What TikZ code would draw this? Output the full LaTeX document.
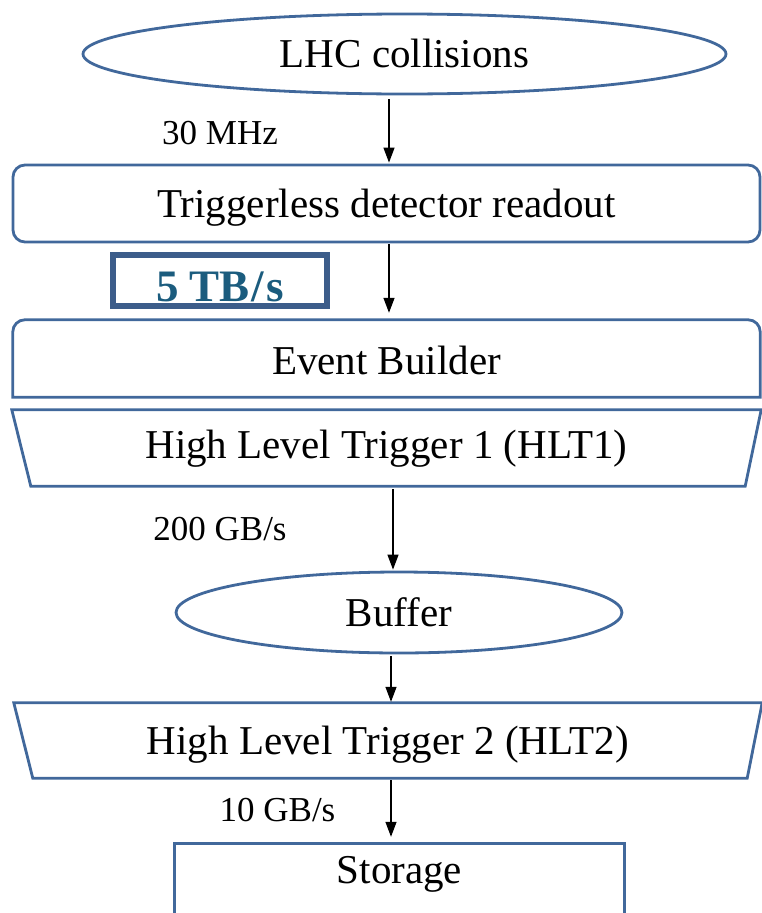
\documentclass[tikz,border=0pt]{standalone}
\usepackage{fontspec}
\setmainfont{Liberation Serif}
\usetikzlibrary{shapes.geometric,arrows.meta}
\definecolor{bord}{RGB}{65,104,155}
\definecolor{tbbord}{RGB}{60,93,138}
\definecolor{tbtext}{RGB}{27,92,126}
\tikzset{
  big/.style={font=\fontsize{41}{48}\selectfont, text height=27pt, text depth=0pt, inner sep=0pt},
  small/.style={font=\fontsize{35}{42}\selectfont, text height=23pt, text depth=0pt, inner sep=0pt},
  shapeline/.style={draw=bord, line width=2.8pt},
  arr/.style={draw=black, line width=1.3pt, -{Triangle[width=11pt,length=15pt]}},
}
\begin{document}
\begin{tikzpicture}[x=1pt,y=-1pt]
\useasboundingbox (0,0) rectangle (761,913);
% nodes
\node[big, ellipse, shapeline, minimum width=643pt, minimum height=80pt] (lhc) at (404.5,54) {LHC collisions};
\node[big, rectangle, rounded corners=12pt, shapeline, minimum width=747pt, minimum height=77pt] (trig) at (386.5,203.5) {Triggerless detector readout};
\node[rectangle, draw=tbbord, line width=6pt, minimum width=214pt, minimum height=51pt, inner sep=0pt,
      font=\fontsize{45}{50}\selectfont\bfseries, text=tbtext, text height=30pt, text depth=0pt] (tb) at (220,280.5) {\raisebox{-5.5pt}{5 TB\kern2pt/\kern2pt s}};
\node[big, rectangle, minimum width=747pt, minimum height=77pt] (eb) at (386.5,358.5) {\raisebox{-2pt}{Event Builder}};
\node[big, rectangle, minimum width=749pt, minimum height=76pt] (hlt1) at (386.5,448) {\raisebox{3.5pt}{High Level Trigger 1 (HLT1)}};
\node[big, ellipse, shapeline, minimum width=446pt, minimum height=81pt] (buf) at (399,612.5) {Buffer};
\node[big, rectangle, minimum width=748pt, minimum height=75pt] (hlt2) at (388,740.5) {High Level Trigger 2 (HLT2)};
\node[big, rectangle, minimum width=449pt, minimum height=52pt] (sto) at (399.5,870) {Storage};
% labels
\node[small] (l30) at (220,132.5) {30 MHz};
\node[small] (l200) at (220,528.5) {200 GB/s};
\node[small] (l10) at (277.5,810) {10 GB/s};
% custom shapes
\draw[shapeline] (eb.south west) [rounded corners=12pt] -- (eb.north west) -- (eb.north east) [sharp corners] -- (eb.south east) -- cycle;
\draw[shapeline, line join=miter] (hlt1.north west) -- (hlt1.north east) -- ([xshift=-16pt]hlt1.south east) -- ([xshift=19pt]hlt1.south west) -- cycle;
\draw[shapeline, line join=miter] (hlt2.north west) -- (hlt2.north east) -- ([xshift=-15pt]hlt2.south east) -- ([xshift=19pt]hlt2.south west) -- cycle;
\draw[shapeline] ([yshift=-25pt]sto.south west) -- (sto.north west) -- (sto.north east) -- ([yshift=-25pt]sto.south east);
% arrow columns
\coordinate (c1) at (389,0);
\coordinate (c3) at (393,0);
\coordinate (c4) at (391,0);
% arrows
\draw[arr, shorten <=4pt, shorten >=1pt] (c1 |- lhc.south) -- (c1 |- trig.north);
\draw[arr, shorten <=1pt, shorten >=7pt] (c1 |- trig.south) -- (c1 |- eb.north);
\draw[arr, shorten <=3pt, shorten >=1pt] (c3 |- hlt1.south) -- (c3 |- buf.north);
\draw[arr, shorten <=2pt, shorten >=1pt] (c4 |- buf.south) -- (c4 |- hlt2.north);
\draw[arr, shorten <=2pt, shorten >=7pt] (c4 |- hlt2.south) -- (c4 |- sto.north);
\end{tikzpicture}
\end{document}
